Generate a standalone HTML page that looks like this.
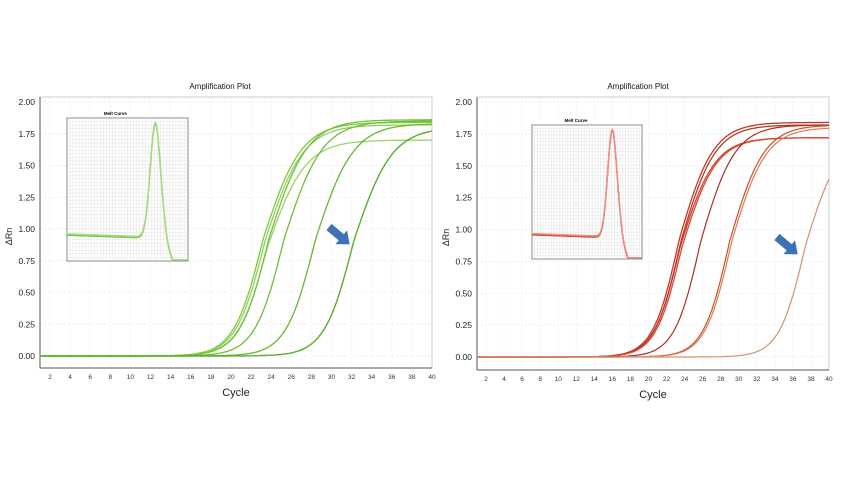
<!DOCTYPE html>
<html><head><meta charset="utf-8"><style>
body{margin:0;background:#fff;width:855px;height:480px;overflow:hidden}
svg{display:block}
text{font-family:"Liberation Sans",sans-serif}
</style></head><body>
<svg id="s" width="855" height="480" xmlns="http://www.w3.org/2000/svg"></svg>
<script>
const S=document.getElementById('s');let h='';
function chart(o){
 const {L,R,T,B,y0,y2,c2,c40,title,tx,curves,inset,arrow}=o;
 const X=c=>c2+(c-2)*(c40-c2)/38, Y=v=>y0-(v/2)*(y0-y2);
 for(let v=0;v<=2.001;v+=0.25) h+=`<line x1="${L}" x2="${R}" y1="${Y(v)}" y2="${Y(v)}" stroke="#eee" stroke-width="1" stroke-dasharray="2,2"/>`;
 for(let c=2;c<=40;c+=2) h+=`<line x1="${X(c)}" x2="${X(c)}" y1="${T}" y2="${B}" stroke="#f2f2f2" stroke-dasharray="2,2"/>`;
 h+=`<rect x="${L}" y="${T}" width="${R-L}" height="${B-T}" fill="none" stroke="#ccc"/>`;
 h+=`<line x1="${L}" x2="${L}" y1="${T}" y2="${B}" stroke="#555"/><line x1="${L}" x2="${R}" y1="${B}" y2="${B}" stroke="#555"/>`;
 for(let v=0;v<=2.001;v+=0.25) h+=`<text x="${L-5}" y="${Y(v)+3}" font-size="8.5" text-anchor="end" fill="#222">${v.toFixed(2)}</text>`;
 for(let c=2;c<=40;c+=2) h+=`<text x="${X(c)}" y="${B+11}" font-size="6.5" text-anchor="middle" fill="#333">${c}</text>`;
 h+=`<text x="${tx}" y="89" font-size="8" text-anchor="middle" fill="#111">${title}</text>`;
 h+=`<text x="${(L+R)/2}" y="${B+28}" font-size="11" text-anchor="middle" fill="#222">Cycle</text>`;
 h+=`<text transform="translate(${L-28},${(T+B)/2+4}) rotate(-90)" font-size="9" text-anchor="middle" fill="#222">ΔRn</text>`;
 curves.forEach(cv=>{const[m,P,col,w]=cv;let d='';for(let c=1;c<=40;c+=0.25){const s=c<m?1.45:1.9;const v=P/(1+Math.exp(-(c-m)/s));d+=(d?'L':'M')+X(c).toFixed(1)+','+Y(v).toFixed(1);}h+=`<path d="${d}" fill="none" stroke="${col}" stroke-width="${w}"/>`;});
 const [ix,iy,iw,ih,icol]=inset;
 h+=`<rect x="${ix}" y="${iy}" width="${iw}" height="${ih}" fill="#fff" stroke="#888"/>`;
 for(let k=1;k<40;k++) h+=`<line x1="${ix+k*iw/40}" x2="${ix+k*iw/40}" y1="${iy}" y2="${iy+ih}" stroke="#ddd" stroke-width="0.4"/>`;
 for(let k=1;k<40;k++) h+=`<line x1="${ix}" x2="${ix+iw}" y1="${iy+k*ih/40}" y2="${iy+k*ih/40}" stroke="#ddd" stroke-width="0.4"/>`;
 h+=`<text x="${ix+iw*0.4}" y="${iy-3}" font-size="4.5" font-weight="bold" text-anchor="middle">Melt Curve</text>`;
 for(let r=0;r<3;r++){let d='';for(let t=0;t<=1.0001;t+=0.005){const base=0.18-0.03*t+r*0.005;const pk=0.8*Math.exp(-Math.pow((t-0.73)/0.06,2));const drop=t>0.8?-0.17*Math.min(1,(t-0.8)/0.08):0;const v=Math.max(0.01,base+pk+drop);d+=(d?'L':'M')+(ix+t*iw).toFixed(1)+','+(iy+ih-v*ih).toFixed(1);}h+=`<path d="${d}" fill="none" stroke="${icol[r]}" stroke-width="1.3"/>`;}
 const [ax,ay]=arrow;
 h+=`<polygon transform="translate(${ax},${ay}) rotate(40)" points="0,-4 16,-4 16,-9 27,0 16,9 16,4 0,4" fill="#3f72b5"/>`;
}
chart({L:40,R:432,T:97,B:368,y0:356,y2:102,c2:50,c40:432,title:"Amplification Plot",tx:220,
 curves:[[23.2,1.84,"#7cc93f",1.3],[23.4,1.82,"#8fd05a",1.3],[23.6,1.70,"#9ad568",1.3],[23.8,1.86,"#72c23a",1.3],[25.3,1.85,"#6fbf35",1.3],[28.4,1.83,"#66b832",1.3],[32.2,1.80,"#5aae2c",1.4]],
 inset:[67,118,121,143,["#6fbf3f","#8fd060","#a6dc80"]],arrow:[329,227]});
chart({L:477,R:829,T:97,B:370,y0:357,y2:102,c2:486,c40:829,title:"Amplification Plot",tx:638,
 curves:[[23.4,1.84,"#c0392b",1.3],[23.5,1.72,"#d2432a",1.3],[23.6,1.82,"#b53a2a",1.3],[23.7,1.72,"#d84a32",1.3],[25.8,1.82,"#a83222",1.2],[29.0,1.82,"#c4532f",1.2],[29.2,1.80,"#e07a50",1.2],[37.4,1.75,"#d99070",1.2]],
 inset:[532,125,110,134,["#c0392b","#e0604a","#f09080"]],arrow:[777,237]});
S.innerHTML=h;
</script>
</body></html>
